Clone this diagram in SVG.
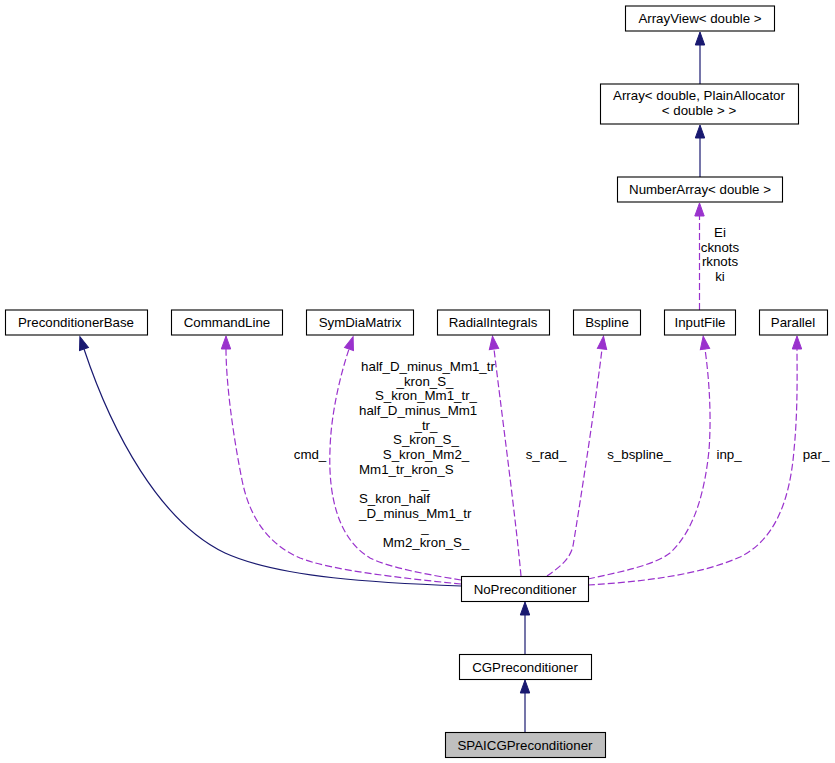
<svg xmlns="http://www.w3.org/2000/svg" width="835" height="763" viewBox="0 0 835 763">
<style>
text{font-family:"Liberation Sans",Arial,Helvetica,sans-serif;font-size:13.3px;fill:#000;text-anchor:middle}
.l{text-anchor:start}
.node rect{fill:#fff;stroke:#000;stroke-width:1.1}
.node.cur rect{fill:#bfbfbf}
.inh{fill:none;stroke:#191970;stroke-width:1.2;marker-end:url(#an)}
.use{fill:none;stroke:#9a32cd;stroke-width:1.2;stroke-dasharray:7,3;marker-end:url(#ap)}
</style>
<defs>
<marker id="an" markerUnits="userSpaceOnUse" viewBox="0 0 14 10" markerWidth="14" markerHeight="10" refX="0.5" refY="5" orient="auto" overflow="visible">
<path d="M0.5,0.3 L13.5,5 L0.5,9.7 Z" fill="#191970" stroke="#191970" stroke-width="1"/>
</marker>
<marker id="ap" markerUnits="userSpaceOnUse" viewBox="0 0 14 10" markerWidth="14" markerHeight="10" refX="0.5" refY="5" orient="auto" overflow="visible">
<path d="M0.5,0.3 L13.5,5 L0.5,9.7 Z" fill="#9a32cd" stroke="#9a32cd" stroke-width="1"/>
</marker>
</defs>
<rect width="835" height="763" fill="#fff"/>
<g id="edges">
<path class="inh" d="M700,84 L700,45"/>
<path class="inh" d="M700,177 L700,138"/>
<path class="use" d="M699.5,310 L699.5,216"/>
<path class="inh" d="M461,586 C380,583 280,578 225,553 C160,522 112,433 84,349"/>
<path class="use" d="M461,584 C400,578 330,570 300,558 C270,545 250,520 242,480 C232,430 226,380 226,349"/>
<path class="use" d="M461,580 C430,575 390,568 370,558 C340,540 328,500 330,450 C331,410 342,370 349,349"/>
<path class="use" d="M521,576 C516,520 500,400 494,349"/>
<path class="use" d="M547,576 C557,569 570,560 573,546 C581,498 597,392 602,349"/>
<path class="use" d="M588,579 C620,572 655,565 670,553 C695,530 705,490 709,450 C712,410 708,370 705,349"/>
<path class="use" d="M588,585 C640,582 700,575 740,557 C775,540 790,500 794,450 C798,410 797,370 797,349"/>
<path class="inh" d="M525,654 L525,615"/>
<path class="inh" d="M525,732 L525,693"/>
<text x="720" y="237">Ei</text>
<text x="720" y="251.7">cknots</text>
<text x="720" y="266.3">rknots</text>
<text x="720" y="281">ki</text>
<text x="310" y="459">cmd_</text>
<text x="428" y="371">half_D_minus_Mm1_tr</text>
<text x="425" y="385.7">_kron_S_</text>
<text x="426" y="400.3">S_kron_Mm1_tr_</text>
<text class="l" x="359" y="415">half_D_minus_Mm1</text>
<text x="426" y="429.7">_tr_</text>
<text x="426" y="444.3">S_kron_S_</text>
<text x="426" y="459">S_kron_Mm2_</text>
<text class="l" x="359" y="473.7">Mm1_tr_kron_S</text>
<text x="425" y="488.3">_</text>
<text class="l" x="359" y="503">S_kron_half</text>
<text class="l" x="359" y="517.7">_D_minus_Mm1_tr</text>
<text x="425" y="532.3">_</text>
<text x="426" y="547">Mm2_kron_S_</text>
<text x="546" y="459">s_rad_</text>
<text x="639" y="459">s_bspline_</text>
<text x="729" y="459">inp_</text>
<text x="816" y="459">par_</text>
</g>
<g id="ArrayView" class="node"><rect x="625.5" y="6" width="149" height="25"/><text x="700" y="23">ArrayView&lt; double &gt;</text></g>
<g id="Array" class="node"><rect x="600.5" y="84" width="198" height="40"/><text x="699" y="100">Array&lt; double, PlainAllocator</text><text x="699" y="115">&lt; double &gt; &gt;</text></g>
<g id="NumberArray" class="node"><rect x="617.5" y="177" width="165" height="25"/><text x="700" y="194">NumberArray&lt; double &gt;</text></g>
<g id="PreconditionerBase" class="node"><rect x="5.5" y="310" width="142" height="25"/><text x="76" y="327">PreconditionerBase</text></g>
<g id="CommandLine" class="node"><rect x="171.5" y="310" width="111" height="25"/><text x="227" y="327">CommandLine</text></g>
<g id="SymDiaMatrix" class="node"><rect x="306.5" y="310" width="107" height="25"/><text x="360" y="327">SymDiaMatrix</text></g>
<g id="RadialIntegrals" class="node"><rect x="437.5" y="310" width="112" height="25"/><text x="493" y="327">RadialIntegrals</text></g>
<g id="Bspline" class="node"><rect x="573.5" y="310" width="67" height="25"/><text x="607" y="327">Bspline</text></g>
<g id="InputFile" class="node"><rect x="664.5" y="310" width="71" height="25"/><text x="700" y="327">InputFile</text></g>
<g id="Parallel" class="node"><rect x="759.5" y="310" width="68" height="25"/><text x="793" y="327">Parallel</text></g>
<g id="NoPreconditioner" class="node"><rect x="461.5" y="576.5" width="127" height="25"/><text x="525" y="593.5">NoPreconditioner</text></g>
<g id="CGPreconditioner" class="node"><rect x="459.5" y="654.5" width="132" height="25"/><text x="525" y="671.5">CGPreconditioner</text></g>
<g id="SPAICGPreconditioner" class="node cur"><rect x="445.5" y="732.5" width="160" height="25"/><text x="525" y="749.5">SPAICGPreconditioner</text></g>
</svg>
